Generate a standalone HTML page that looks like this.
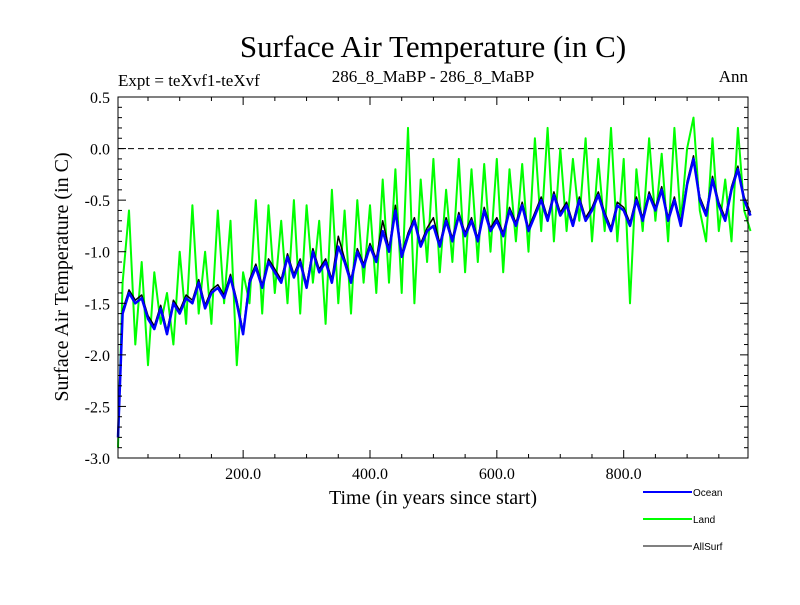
<!DOCTYPE html>
<html><head><meta charset="utf-8"><style>
body{margin:0;background:#fff}
svg text{font-family:"Liberation Serif",serif;fill:#000}
</style></head><body>
<svg id="chart" width="800" height="600" xmlns="http://www.w3.org/2000/svg">
<text x="433" y="57" font-size="31" text-anchor="middle">Surface Air Temperature (in C)</text>
<text x="118" y="86" font-size="17">Expt = teXvf1-teXvf</text>
<text x="433" y="82" font-size="17" text-anchor="middle">286_8_MaBP - 286_8_MaBP</text>
<text x="748" y="82" font-size="17" text-anchor="end">Ann</text>
<text transform="translate(68,277) rotate(-90)" font-size="20" text-anchor="middle">Surface Air Temperature (in C)</text>
<text x="433" y="504" font-size="20" text-anchor="middle">Time (in years since start)</text>
<g id="plot"></g>
<g>
<line x1="643" y1="492" x2="692" y2="492" stroke="#0000ff" stroke-width="2"/>
<text x="693" y="496" font-size="10" style="font-family:'Liberation Sans',sans-serif">Ocean</text>
<line x1="643" y1="519" x2="692" y2="519" stroke="#00ff00" stroke-width="2"/>
<text x="693" y="523" font-size="10" style="font-family:'Liberation Sans',sans-serif">Land</text>
<line x1="643" y1="546" x2="692" y2="546" stroke="#000" stroke-width="1"/>
<text x="693" y="550" font-size="10" style="font-family:'Liberation Sans',sans-serif">AllSurf</text>
</g>
</svg>
<script>
const years=[];for(let i=0;i<=100;i++)years.push(i*10);
const ocean=[-2.8,-1.6,-1.4,-1.5,-1.45,-1.65,-1.75,-1.55,-1.8,-1.5,-1.6,-1.45,-1.5,-1.3,-1.55,-1.4,-1.35,-1.45,-1.25,-1.5,-1.8,-1.3,-1.15,-1.35,-1.1,-1.2,-1.3,-1.05,-1.25,-1.1,-1.35,-1.0,-1.2,-1.1,-1.3,-0.95,-1.1,-1.3,-1.0,-1.15,-0.95,-1.1,-0.8,-1.0,-0.6,-1.05,-0.85,-0.7,-0.95,-0.8,-0.75,-0.95,-0.7,-0.9,-0.65,-0.85,-0.7,-0.9,-0.6,-0.8,-0.7,-0.85,-0.6,-0.75,-0.55,-0.8,-0.65,-0.5,-0.7,-0.45,-0.65,-0.55,-0.75,-0.5,-0.7,-0.6,-0.45,-0.65,-0.8,-0.55,-0.6,-0.75,-0.5,-0.7,-0.45,-0.6,-0.4,-0.7,-0.5,-0.75,-0.35,-0.1,-0.5,-0.65,-0.3,-0.55,-0.7,-0.4,-0.2,-0.5,-0.65];
const land=[-2.9,-1.3,-0.6,-1.9,-1.1,-2.1,-1.2,-1.7,-1.4,-1.9,-1.0,-1.7,-0.55,-1.6,-1.0,-1.7,-0.6,-1.5,-0.7,-2.1,-1.2,-1.5,-0.5,-1.6,-0.55,-1.4,-0.7,-1.5,-0.5,-1.6,-0.55,-1.3,-0.7,-1.7,-0.4,-1.5,-0.6,-1.6,-0.5,-1.3,-0.55,-1.4,-0.3,-1.3,-0.2,-1.4,0.2,-1.5,-0.3,-1.1,-0.1,-1.2,-0.4,-1.1,-0.1,-1.2,-0.2,-1.1,-0.15,-1.0,-0.1,-1.2,-0.2,-0.9,-0.15,-1.0,0.1,-0.8,0.2,-0.9,0.0,-0.8,-0.1,-0.7,0.1,-0.9,-0.1,-0.8,0.2,-0.9,-0.1,-1.5,-0.2,-0.8,0.1,-0.7,-0.05,-0.9,0.2,-0.7,0.0,0.3,-0.6,-0.9,0.1,-0.8,-0.3,-0.9,0.2,-0.6,-0.8];
const allsurf=[-2.75,-1.57,-1.37,-1.47,-1.42,-1.62,-1.72,-1.52,-1.77,-1.47,-1.57,-1.42,-1.47,-1.27,-1.52,-1.37,-1.32,-1.42,-1.22,-1.47,-1.77,-1.27,-1.12,-1.32,-1.07,-1.17,-1.27,-1.02,-1.22,-1.07,-1.32,-0.97,-1.17,-1.07,-1.27,-0.85,-1.07,-1.27,-0.97,-1.12,-0.92,-1.07,-0.7,-0.97,-0.55,-1.02,-0.82,-0.67,-0.92,-0.77,-0.67,-0.92,-0.67,-0.87,-0.62,-0.82,-0.67,-0.87,-0.57,-0.77,-0.67,-0.82,-0.57,-0.72,-0.52,-0.77,-0.62,-0.47,-0.67,-0.42,-0.62,-0.52,-0.72,-0.47,-0.67,-0.57,-0.42,-0.62,-0.77,-0.52,-0.57,-0.72,-0.47,-0.67,-0.42,-0.57,-0.37,-0.67,-0.47,-0.72,-0.32,-0.07,-0.47,-0.62,-0.27,-0.52,-0.67,-0.37,-0.17,-0.47,-0.62];
const yTicks=[0.5,0.0,-0.5,-1.0,-1.5,-2.0,-2.5,-3.0];
const xTicks=[200,400,600,800];
const X0=118,X1=748,Y0=97,Y1=458,xMin=2.7,xMax=996,yMin=-3.0,yMax=0.5;
function sx(v){return X0+(v-xMin)/(xMax-xMin)*(X1-X0);}
function sy(v){return Y1-(v-yMin)/(yMax-yMin)*(Y1-Y0);}
const NS='http://www.w3.org/2000/svg';
const g=document.getElementById('plot');
function el(t,a){const e=document.createElementNS(NS,t);for(const k in a)e.setAttribute(k,a[k]);g.appendChild(e);return e;}
let z=el('line',{x1:X0,x2:X1,y1:sy(0),y2:sy(0),stroke:'#000','stroke-dasharray':'6,4','stroke-width':1});


function series(arr,color,w,name){
  const d=arr.map((v,i)=>(i?'L':'M')+sx(Math.max(years[i],xMin)).toFixed(1)+','+sy(v).toFixed(1)).join('');
  const p=el('path',{d:d,fill:'none',stroke:color,'stroke-width':w,'stroke-linejoin':'round'});
  
  
}
series(land,'#00ff00',2,'land-series');
series(allsurf,'#000000',1.5,'allsurf-series');
series(ocean,'#0000ff',2.5,'ocean-series');
let f=el('rect',{x:X0,y:Y0,width:X1-X0,height:Y1-Y0,fill:'none',stroke:'#000','stroke-width':1});


for(let v=-3.0;v<=0.501;v+=0.1){
  const major=Math.abs(Math.round(v*10)%5)===0;const L=major?8:4;
  el('line',{x1:X0,x2:X0+L,y1:sy(v),y2:sy(v),stroke:'#000'});
  el('line',{x1:X1,x2:X1-L,y1:sy(v),y2:sy(v),stroke:'#000'});
}
yTicks.forEach(v=>{const t=el('text',{x:X0-8,y:sy(v)+6,'font-size':16,'text-anchor':'end'});t.textContent=v.toFixed(1);

});
for(let v=50;v<1000;v+=50){
  const L=v%200===0?8:4;
  el('line',{x1:sx(v),x2:sx(v),y1:Y1,y2:Y1-L,stroke:'#000'});
  el('line',{x1:sx(v),x2:sx(v),y1:Y0,y2:Y0+L,stroke:'#000'});
}
xTicks.forEach(v=>{const t=el('text',{x:sx(v),y:Y1+21,'font-size':16,'text-anchor':'middle'});t.textContent=v.toFixed(1);

});
</script>
</body></html>
